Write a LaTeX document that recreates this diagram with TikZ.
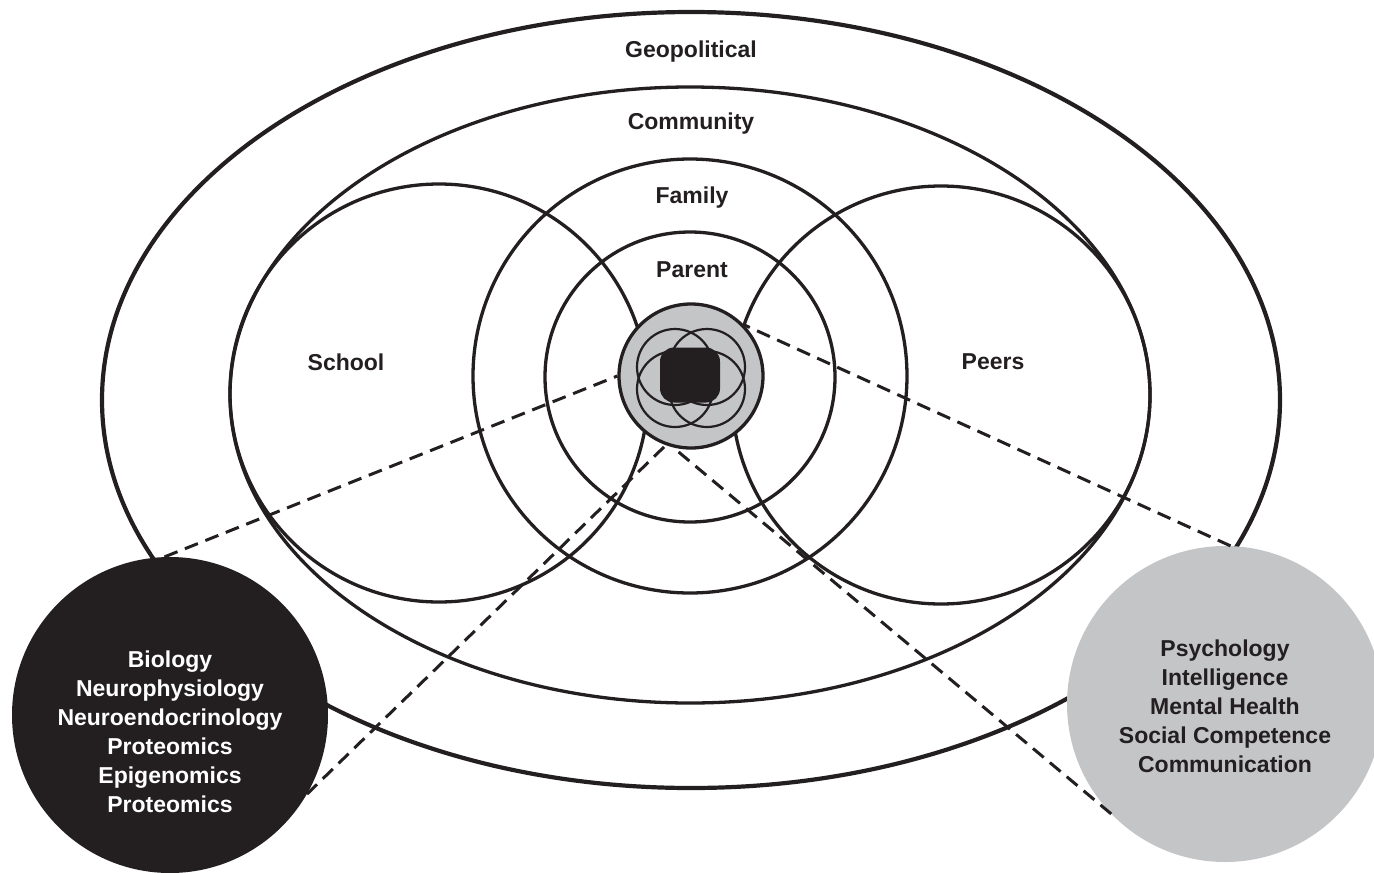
\documentclass[tikz,border=0pt]{standalone}
\usepackage{fontspec}
\setmainfont{Liberation Sans}
\usetikzlibrary{positioning}
\definecolor{ink}{HTML}{231F20}
\definecolor{shade}{HTML}{C4C5C7}
\tikzset{
    ring/.style={draw=ink,line width=3.3pt},
    link/.style={draw=ink,line width=3pt,dash pattern=on 14pt off 8pt},
    lab/.style={font=\fontsize{23}{29}\selectfont\bfseries,text=ink,align=center,inner sep=0pt},
    topic/.style={circle,minimum size=316pt,inner sep=0pt}
}
\begin{document}
\begin{tikzpicture}[x=1pt,y=-1pt]
    \useasboundingbox (0,0) rectangle (1374,873);
    \clip (0,0) rectangle (1374,873);
    \draw[ring,line width=4.2pt] (691,400) ellipse [x radius=589pt,y radius=388pt];
    \draw[ring] (690,395) ellipse [x radius=460pt,y radius=308pt];
    \draw[ring] (439,393) circle [radius=209pt];
    \draw[ring] (941,395) circle [radius=209pt];
    \draw[ring] (690,376) circle [radius=217pt];
    \draw[ring] (690,377) circle [radius=145pt];
    \node[lab] (geo) at (691,52) {Geopolitical};
    \node[lab] (community) at (691,124) {Community};
    \node[lab] (family) at (692,198) {Family};
    \node[lab] (parent) at (692,270) {Parent};
    \node[lab] (school) at (346,362) {School};
    \node[lab] (peers) at (993,362) {Peers};
    \node[circle,fill=shade,draw=ink,line width=3.3pt,minimum size=144pt,inner sep=0pt] (core) at (691,376) {};
    \foreach \dx/\dy in {-16/-11,16/-11,-16/11,16/11}
        \draw[ink,line width=2.2pt] (691+\dx,378+\dy) circle [radius=38pt];
    \node[fill=ink,rounded corners=14pt,minimum width=60pt,minimum height=55pt,inner sep=0pt] (heart) at (690,375) {};
    \node[topic,fill=ink] (bio) at (170,715) {};
    \node[lab,text=white] (biotext) at ([yshift=-17pt]bio.center) {Biology\\Neurophysiology\\Neuroendocrinology\\Proteomics\\Epigenomics\\Proteomics};
    \node[topic,fill=shade] (psych) at (1225,704) {};
    \node[lab] (psychtext) at ([yshift=-2pt]psych.center) {Psychology\\Intelligence\\Mental Health\\Social Competence\\Communication};
    \draw[link] (bio.92) -- (core.180);
    \draw[link] (bio.-30) -- (core.250);
    \draw[link] (psych.88) -- (core.44);
    \draw[link] (psych.224) -- (core.256);
\end{tikzpicture}
\end{document}
